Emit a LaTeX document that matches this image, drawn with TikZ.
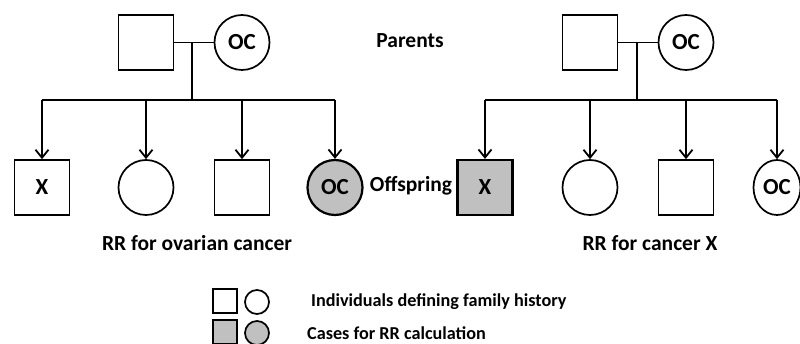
\documentclass[tikz,border=0pt]{standalone}
\usepackage{fontspec}
\setmainfont{Carlito}
\usetikzlibrary{arrows.meta,shapes.geometric}
\definecolor{casegray}{RGB}{192,192,192}
\begin{document}
\begin{tikzpicture}[x=1pt,y=-1pt,
  symfont/.style={font=\fontsize{23}{27}\selectfont\bfseries},
  sq/.style={draw, line width=1.7pt, minimum size=55pt, inner sep=0pt, symfont},
  ci/.style={draw, circle, line width=1.7pt, minimum size=55pt, inner sep=0pt, symfont},
  el/.style={draw, ellipse, line width=1.7pt, minimum width=47pt, minimum height=55pt, inner sep=0pt, symfont},
  case/.style={fill=casegray, line width=2.2pt},
  lsq/.style={draw, line width=1.7pt, minimum size=24pt, inner sep=0pt},
  lci/.style={draw, circle, line width=1.7pt, minimum size=24pt, inner sep=0pt},
  link/.style={line width=1.8pt},
  arr/.style={link, -{Straight Barb[length=8pt,width=13pt,line width=1.8pt]}},
  lbl/.style={font=\fontsize{21.5}{25}\selectfont\bfseries},
  leg/.style={font=\fontsize{18.2}{22}\selectfont\bfseries, anchor=west, inner sep=0pt}]
\useasboundingbox (0,0) rectangle (800,344);

% left family
\node[sq] (F1) at (146,42.5) {};
\node[ci] (M1) at (242,42.5) {OC};
\coordinate (J1) at (192,42.5);
\coordinate (S1) at (192,100);
\node[sq] (C11) at (42,187.5) {X};
\node[ci] (C12) at (146,187.5) {};
\node[sq] (C13) at (242,187.5) {};
\node[ci, case] (C14) at (335,187.5) {OC};
\coordinate (B11) at (42,100);
\coordinate (B12) at (146,100);
\coordinate (B13) at (242,100);
\coordinate (B14) at (335,100);
\draw[link] (F1.east) -- (M1.west);
\draw[link] (J1) -- (S1);
\draw[link] (B11) -- (B14);
\draw[arr] (B11) -- (C11.north);
\draw[arr] (B12) -- (C12.north);
\draw[arr] (B13) -- (C13.north);
\draw[arr] (B14) -- (C14.north);

% right family
\node[sq] (F2) at (590,42.5) {};
\node[ci] (M2) at (686,42.5) {OC};
\coordinate (J2) at (637,42.5);
\coordinate (S2) at (637,100);
\node[sq, case] (C21) at (485,187.5) {X};
\node[ci] (C22) at (590,187.5) {};
\node[sq] (C23) at (686,187.5) {};
\node[el] (C24) at (777,187.5) {OC};
\coordinate (B21) at (485,100);
\coordinate (B22) at (590,100);
\coordinate (B23) at (686,100);
\coordinate (B24) at (777,100);
\draw[link] (F2.east) -- (M2.west);
\draw[link] (J2) -- (S2);
\draw[link] (B21) -- (B24);
\draw[arr] (B21) -- (C21.north);
\draw[arr] (B22) -- (C22.north);
\draw[arr] (B23) -- (C23.north);
\draw[arr] (B24) -- (C24.north);

% labels
\node[lbl] (parents) at (410,41) {Parents};
\node[lbl] (offspring) at (411,186) {Offspring};
\node[lbl] (rr1) at (197,243) {RR for ovarian cancer};
\node[lbl] (rr2) at (650,243) {RR for cancer X};

% legend
\node[lsq] (L1) at (225,301) {};
\node[lci] (L2) at (257,302) {};
\node[lsq, fill=casegray] (L3) at (225,332) {};
\node[lci, fill=casegray] (L4) at (257,333) {};
\node[leg] (T1) at (311,302) {Individuals defining family history};
\node[leg] (T2) at (307,333) {Cases for RR calculation};
\end{tikzpicture}
\end{document}
